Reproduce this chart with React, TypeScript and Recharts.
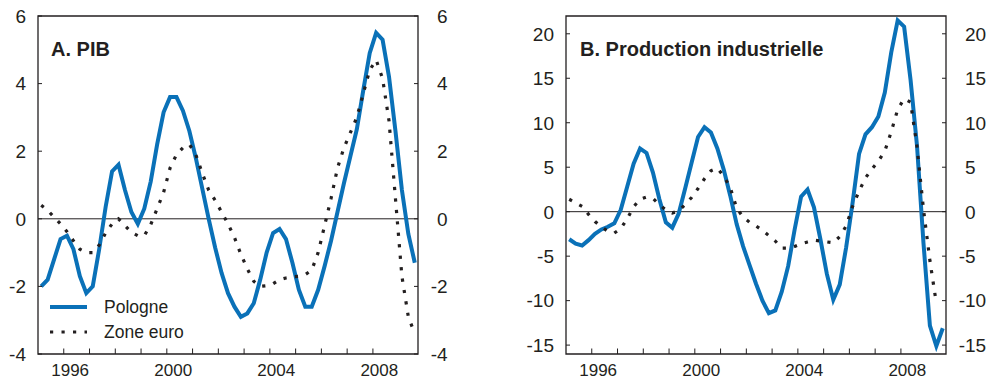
import { LineChart, Line, XAxis, YAxis, ReferenceLine, ReferenceArea, Legend } from "recharts";

const firstYear = 1995;
const xDomain = [1995, 2009.75];
const yearTicks = [1996, 1997, 1998, 1999, 2000, 2001, 2002, 2003, 2004, 2005, 2006, 2007, 2008];
const labelYears = [1996, 2000, 2004, 2008];

// A. PIB, quarterly, 1995T1 .. 2009T3
const pibPologne = [
  -2.0, -1.8, -1.2, -0.6, -0.5, -0.9, -1.7, -2.2, -2.0, -0.9,
  0.35, 1.4, 1.6, 0.85, 0.2, -0.15, 0.3, 1.1, 2.2, 3.15,
  3.6, 3.6, 3.2, 2.6, 1.8, 0.9, 0.0, -0.85, -1.6, -2.2,
  -2.6, -2.9, -2.8, -2.5, -1.8, -1.0, -0.42, -0.3, -0.6, -1.3,
  -2.1, -2.6, -2.6, -2.1, -1.4, -0.65, 0.2, 1.05, 1.85, 2.65,
  3.8, 4.9, 5.5, 5.3, 4.2, 2.6, 0.85, -0.45, -1.3,
];
const pibZoneEuro = [
  0.4, 0.25, 0.05, -0.15, -0.38, -0.65, -0.9, -1.0, -1.0, -0.78,
  -0.42, -0.15, 0.0, -0.2, -0.4, -0.5, -0.5, -0.17, 0.3, 0.78,
  1.5, 1.9, 2.1, 2.2, 1.9, 1.35, 0.85, 0.55, 0.2, -0.15,
  -0.55, -1.05, -1.48, -1.85, -2.0, -1.98, -1.92, -1.8, -1.75, -1.72,
  -1.7, -1.65, -1.52, -1.0, -0.2, 0.6, 1.5, 2.1, 2.55, 3.0,
  3.7, 4.4, 4.7, 4.15, 2.9, 0.6, -1.7, -2.9, -3.4,
];

// B. Production industrielle
const ipPologne = [
  -3.1, -3.6, -3.8, -3.2, -2.5, -2.0, -1.7, -1.3, 0.2, 2.8,
  5.4, 7.1, 6.6, 4.4, 1.4, -1.2, -1.8, -0.2, 2.6, 5.5,
  8.4, 9.5, 8.9, 7.1, 4.7, 1.8, -1.4, -3.9, -6.0, -8.1,
  -10.0, -11.4, -11.1, -9.0, -6.1, -2.0, 1.7, 2.5, 0.5, -3.1,
  -7.0, -9.9, -8.2, -4.0, 1.0, 6.5, 8.7, 9.5, 10.7, 13.4,
  17.9, 21.5, 20.8, 14.8, 7.4, -3.5, -12.8, -15.1, -13.1,
];
const ipZoneEuro = [
  1.4, 1.0, 0.6, -0.3, -1.1, -1.7, -2.2, -2.4, -1.9, -0.8,
  0.55, 1.4, 1.65, 1.5, 0.8, 0.2, -0.15, 0.1, 0.8, 1.6,
  2.6, 3.7, 4.6, 4.9, 4.0, 2.7, 0.4, -0.6, -1.2, -1.6,
  -2.1, -2.7, -3.3, -4.1, -4.1, -3.9, -3.6, -3.4, -3.2, -3.3,
  -3.4, -3.5, -2.8, -1.6, 0.6, 2.3, 3.8, 4.8, 5.7, 6.8,
  9.0, 11.5, 12.7, 12.3, 7.3, 0.3, -5.5, -10.3, null,
];

const pibTicks = [-4, -2, 0, 2, 4, 6];
const ipTicks = [-15, -10, -5, 0, 5, 10, 15, 20];

const ink = "#231f20";
const blue = "#0a71b8";
const font = "'Liberation Sans', Arial, Helvetica, sans-serif";

const seriesStyle: Record<string, { stroke: string; width: number; dash?: string }> = {
  pologne: { stroke: blue, width: 4 },
  euro: { stroke: ink, width: 3.2, dash: "3.2 8.3" },
};

function buildRows(pol: (number | null)[], eur: (number | null)[]) {
  return pol.map((v, i) => ({
    t: firstYear + (i + 0.5) / 4,
    pologne: v,
    euro: eur[i],
  }));
}

const pibData = buildRows(pibPologne, pibZoneEuro);
const ipData = buildRows(ipPologne, ipZoneEuro);

const LeftTick = ({ x, y, payload }: any) => (
  <g>
    <line x1={x} x2={x + 4} y1={y} y2={y} stroke={ink} strokeWidth={1} />
    <text x={x - 12} y={y} dy="0.36em" textAnchor="end" fontSize={19} fill={ink} fontFamily={font}>
      {payload.value}
    </text>
  </g>
);

const RightTick = ({ x, y, payload }: any) => {
  const v = payload.value;
  return (
    <g>
      <line x1={x - 4} x2={x} y1={y} y2={y} stroke={ink} strokeWidth={1} />
      {v < 0 && (
        <text x={x + 19} y={y} dy="0.36em" textAnchor="end" fontSize={19} fill={ink} fontFamily={font}>
          -
        </text>
      )}
      <text x={x + 19} y={y} dy="0.36em" textAnchor="start" fontSize={19} fill={ink} fontFamily={font}>
        {Math.abs(v)}
      </text>
    </g>
  );
};

const XTick = ({ x, y, payload }: any) => (
  <g>
    <line x1={x} x2={x} y1={y} y2={y - 5.5} stroke={ink} strokeWidth={1} />
    {labelYears.includes(payload.value) && (
      <text x={x + 6.4} y={y + 22} textAnchor="middle" fontSize={17} fill={ink} fontFamily={font}>
        {payload.value}
      </text>
    )}
  </g>
);

const renderLegend = (props: any) => {
  const { payload } = props;
  return (
    <div style={{ fontFamily: font }}>
      {payload.map((entry: any) => {
        const s = seriesStyle[entry.dataKey];
        return (
          <div key={entry.dataKey} style={{ display: "flex", alignItems: "center", height: 24.4 }}>
            <svg width={37} height={8} style={{ display: "block" }}>
              <line x1={0} x2={37} y1={4} y2={4} stroke={s.stroke} strokeWidth={s.width} strokeDasharray={s.dash} />
            </svg>
            <span style={{ marginLeft: 17, fontSize: 17.5, color: ink, lineHeight: "20px" }}>{entry.value}</span>
          </div>
        );
      })}
    </div>
  );
};

function Panel({
  data,
  width,
  leftWidth,
  rightWidth,
  domain,
  ticks,
  legend,
}: {
  data: any[];
  width: number;
  leftWidth: number;
  rightWidth: number;
  domain: number[];
  ticks: number[];
  legend?: boolean;
}) {
  return (
    <LineChart width={width} height={380} data={data} margin={{ top: 16, right: 0, bottom: 0, left: 0 }}>
      <XAxis
        dataKey="t"
        type="number"
        domain={xDomain}
        ticks={yearTicks}
        interval={0}
        allowDataOverflow
        axisLine={false}
        tickLine={false}
        tickSize={0}
        tickMargin={0}
        height={26}
        tick={XTick}
      />
      <YAxis
        yAxisId="l"
        type="number"
        domain={domain}
        ticks={ticks}
        interval={0}
        allowDataOverflow
        width={leftWidth}
        axisLine={false}
        tickLine={false}
        tickSize={0}
        tickMargin={0}
        tick={LeftTick}
      />
      <YAxis
        yAxisId="r"
        orientation="right"
        type="number"
        domain={domain}
        ticks={ticks}
        interval={0}
        allowDataOverflow
        width={rightWidth}
        axisLine={false}
        tickLine={false}
        tickSize={0}
        tickMargin={0}
        tick={RightTick}
      />
      <ReferenceArea
        yAxisId="l"
        x1={xDomain[0]}
        x2={xDomain[1]}
        y1={domain[0]}
        y2={domain[1]}
        fill="none"
        stroke={ink}
        strokeWidth={1.3}
        ifOverflow="visible"
      />
      <ReferenceLine yAxisId="l" y={0} stroke={ink} strokeWidth={1} />
      <Line
        yAxisId="l"
        dataKey="pologne"
        name="Pologne"
        stroke={seriesStyle.pologne.stroke}
        strokeWidth={seriesStyle.pologne.width}
        dot={false}
        activeDot={false}
        isAnimationActive={false}
      />
      <Line
        yAxisId="l"
        dataKey="euro"
        name="Zone euro"
        stroke={seriesStyle.euro.stroke}
        strokeWidth={seriesStyle.euro.width}
        strokeDasharray={seriesStyle.euro.dash}
        dot={false}
        activeDot={false}
        isAnimationActive={false}
      />
      {legend && (
        <Legend
          layout="vertical"
          align="center"
          verticalAlign="middle"
          content={renderLegend}
          wrapperStyle={{ left: 50, top: 295, width: 200, height: 50 }}
        />
      )}
    </LineChart>
  );
}

export default function App() {
  return (
    <div style={{ position: "absolute", left: 0, top: 0, width: 992, height: 380, background: "#fff" }}>
      <div style={{ position: "absolute", left: 0, top: 0 }}>
        <Panel data={pibData} width={500} leftWidth={38} rightWidth={82} domain={[-4, 6]} ticks={pibTicks} legend />
      </div>
      <div style={{ position: "absolute", left: 500, top: 0 }}>
        <Panel data={ipData} width={492} leftWidth={66} rightWidth={46} domain={[-16, 22]} ticks={ipTicks} />
      </div>
      <svg
        width={992}
        height={380}
        style={{ position: "absolute", left: 0, top: 0, pointerEvents: "none" }}
      >
        <text x={51} y={56} fontSize={20} fontWeight="bold" fill={ink} fontFamily={font}>
          A. PIB
        </text>
        <text x={580} y={56} fontSize={20} fontWeight="bold" fill={ink} fontFamily={font}>
          B. Production industrielle
        </text>
      </svg>
    </div>
  );
}
